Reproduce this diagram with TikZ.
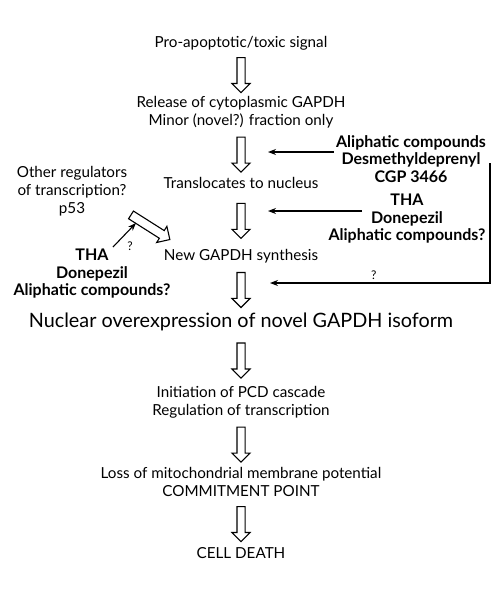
\documentclass[tikz,border=0pt]{standalone}
\usepackage{fontspec}
\setmainfont{Lato}
\usetikzlibrary{arrows.meta,shapes.arrows}

\tikzset{
  step text/.style={align=center, font=\fontsize{15.2}{18}\selectfont, inner sep=2pt},
  drug text/.style={align=center, font=\bfseries\fontsize{16}{17.5}\selectfont, inner sep=2pt},
  hollow/.style={draw, line width=1.1pt, single arrow, inner sep=3.5pt, minimum height=35pt,
    single arrow head extend=5pt, shape border rotate=270},
  thin arrow/.style={-{Stealth[length=8pt,width=6pt]}, line width=1.1pt}
}

\begin{document}
\begin{tikzpicture}[x=1pt, y=-1pt]
  \useasboundingbox (0,0) rectangle (500,592);
  % main chain
  \node[step text] (signal) at (241,43) {Pro-apoptotic/toxic signal};
  \node[step text] (release) at (241,112) {Release of cytoplasmic GAPDH\\Minor (novel?) fraction only};
  \node[step text] (transloc) at (241,183) {Translocates to nucleus};
  \node[step text] (newsyn) at (241,256) {New GAPDH synthesis};
  \node[step text, font=\fontsize{19.8}{22}\selectfont] (overexpr) at (241,322) {Nuclear overexpression of novel GAPDH isoform};
  \node[step text] (pcd) at (241,402) {Initiation of PCD cascade\\Regulation of transcription};
  \node[step text] (mito) at (241,482) {Loss of mitochondrial membrane potential\\COMMITMENT POINT};
  \node[step text] (death) at (241,553) {CELL DEATH};

  \path (signal) -- node[hollow] {} (release);
  \path (release) -- node[hollow] {} (transloc);
  \path (transloc) -- node[hollow] {} (newsyn);
  \path (newsyn) -- node[hollow] {} (overexpr);
  \path (overexpr) -- node[hollow] {} (pcd);
  \path (pcd) -- node[hollow] {} (mito);
  \path (mito) -- node[hollow] {} (death);

  % side inputs
  \node[step text] (regs) at (72,191) {Other regulators\\of transcription?\\p53};
  \node[drug text] (lefttha) at (92,274) {THA\\Donepezil\\Aliphatic compounds?};
  \node[drug text] (drugsA) at (411,159) {Aliphatic compounds\\Desmethyldeprenyl\\CGP 3466};
  \node[drug text] (drugsB) at (407,219) {THA\\Donepezil\\Aliphatic compounds?};

  \coordinate (diagA) at (128,213);
  \coordinate (diagB) at (169,239);
  \path (diagA) -- node[hollow, sloped, shape border rotate=0, minimum height=46pt, inner sep=4pt] {} (diagB);
  \coordinate (hitL) at (136,223);
  \coordinate (tailL) at (113,247);
  \draw[thin arrow] (tailL) -- (hitL);
  \node[font=\fontsize{12}{14}\selectfont] (qL) at (130,246) {?};

  \coordinate (inA) at (268,152);
  \coordinate (inB) at (268,211);
  \coordinate (inC) at (270,283);
  \coordinate (railTop) at (490,163);
  \draw[thin arrow] (drugsA.west |- inA) -- (inA);
  \draw[thin arrow] (362,211) -- (inB);
  \draw[thin arrow] (railTop) |- node[pos=0.764, above, font=\fontsize{12}{14}\selectfont] (qR) {?} (inC);
\end{tikzpicture}
\end{document}
